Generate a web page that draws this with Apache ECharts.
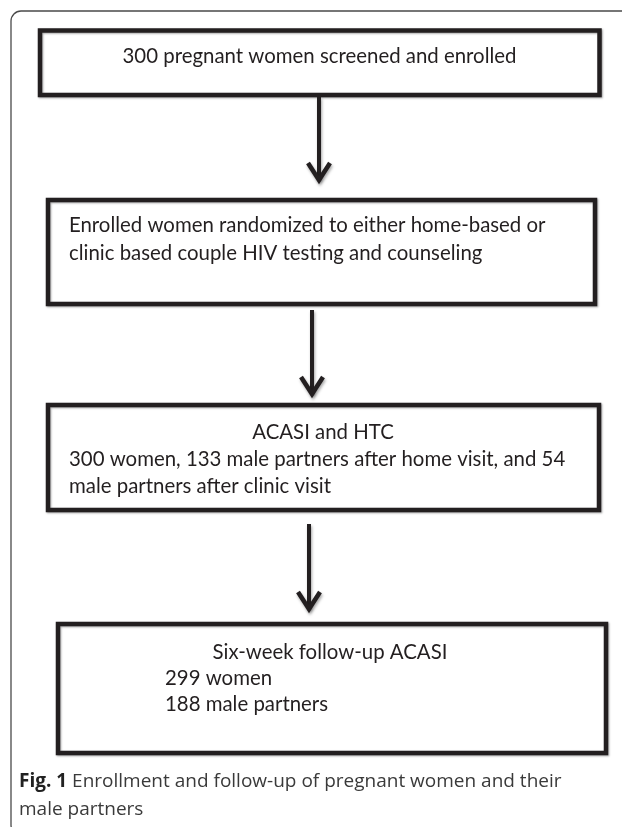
<!DOCTYPE html>
<html>
<head>
<meta charset="utf-8">
<script src="https://cdn.jsdelivr.net/npm/echarts@6/dist/echarts.min.js"></script>
<style>
* { margin: 0; padding: 0; }
html, body { background: #fff; }
#chart-container { width: 622px; height: 827px; }
</style>
</head>
<body>
<div id="chart-container"></div>
<script>
// counts shown in the flow boxes
const enrolledWomen = [300];
const visitCounts = [300, 133, 54];   // women, partners after home visit, partners after clinic visit
const followUpCounts = [299, 188];    // women, male partners

const stageTitles = ['', '', 'ACASI and HTC', 'Six-week follow-up ACASI'];
const captionBold = 'Fig. 1';
const captionLines = [' Enrollment and follow-up of pregnant women and their', 'male partners'];

// box outlines: [left, top, right, bottom]
const boxes = [
    [40, 30.5, 599.5, 95],
    [48, 200, 595, 304],
    [48, 405, 599, 510],
    [58, 624, 606, 753]
];
// arrows: [x, top, tip]
const arrows = [
    [319, 97, 183],
    [312, 310, 397],
    [309, 524, 612]
];

const ink = '#231f20';
const boxFont = '20.4px Lato';

const dom = document.getElementById('chart-container');
const myChart = echarts.init(dom, null, { renderer: 'canvas' });

let elements = [];

// outer figure frame, open at right and bottom
elements.push({
    type: 'rect',
    shape: { x: 11, y: 11, width: 660, height: 824, r: 10 },
    style: { fill: null, stroke: '#4a4a4a', lineWidth: 1.3 }
});

boxes.forEach(b => {
    elements.push({
        type: 'rect',
        shape: { x: b[0], y: b[1], width: b[2] - b[0], height: b[3] - b[1] },
        style: {
            fill: '#fff', stroke: ink, lineWidth: 4.5,
            shadowBlur: 2, shadowColor: 'rgba(0,0,0,0.35)', shadowOffsetX: 1, shadowOffsetY: 1
        }
    });
});

arrows.forEach(a => {
    elements.push({
        type: 'line',
        shape: { x1: a[0], y1: a[1], x2: a[0], y2: a[2] - 3 },
        style: { stroke: ink, lineWidth: 4, shadowBlur: 3, shadowColor: 'rgba(0,0,0,0.35)', shadowOffsetX: 1, shadowOffsetY: 2 }
    });
    elements.push({
        type: 'polyline',
        shape: { points: [[a[0] - 11, a[2] - 20], [a[0], a[2] - 3], [a[0] + 11, a[2] - 20]] },
        style: { stroke: ink, lineWidth: 4.5, fill: null, lineJoin: 'miter', shadowBlur: 3, shadowColor: 'rgba(0,0,0,0.35)', shadowOffsetX: 1, shadowOffsetY: 2 }
    });
});

function label(text, x, y, align, font, fill) {
    elements.push({
        type: 'text',
        style: {
            text: text, x: x, y: y,
            textAlign: align || 'left', verticalAlign: 'middle',
            font: font || boxFont, fill: fill || ink
        }
    });
}

label(enrolledWomen[0] + ' pregnant women screened and enrolled', 319.5, 56, 'center');

label('Enrolled women randomized to either home-based or', 69, 225);
label('clinic based couple HIV testing and counseling', 69, 253);

label(stageTitles[2], 323, 432, 'center');
label(visitCounts[0] + ' women, ' + visitCounts[1] + ' male partners after home visit, and ' + visitCounts[2], 69, 459);
label('male partners after clinic visit', 69, 486);

label(stageTitles[3], 330, 652, 'center');
label(followUpCounts[0] + ' women', 165, 678);
label(followUpCounts[1] + ' male partners', 165, 704);

// caption
elements.push({
    type: 'text',
    style: {
        text: '{b|' + captionBold + '}' + captionLines[0],
        x: 19, y: 782, verticalAlign: 'middle',
        font: '19px "Open Sans"', fill: '#3a3a3a',
        rich: { b: { font: 'bold 19px "Open Sans"', fill: '#222' } }
    }
});
label(captionLines[1], 19, 810, 'left', '19px "Open Sans"', '#3a3a3a');

myChart.setOption({
    backgroundColor: '#fff',
    animation: false,
    graphic: { elements: elements }
});

window.addEventListener('resize', () => {
    myChart.resize();
});
</script>
</body>
</html>
